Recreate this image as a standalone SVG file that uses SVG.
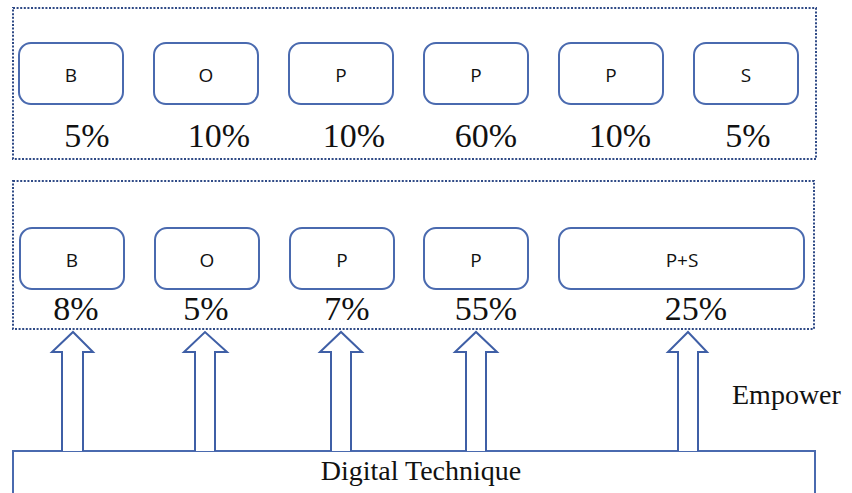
<svg xmlns="http://www.w3.org/2000/svg" width="852" height="493" viewBox="0 0 852 493">
<style>
.grp{fill:none;stroke:#2f4a86;stroke-width:2;stroke-dasharray:2 1.6}
.box{fill:#fff;stroke:#4a6aaf;stroke-width:2}
.lbl{font-family:"Open Sans","Liberation Sans",sans-serif;font-size:19px;fill:#111;text-anchor:middle}
.pct{font-family:"Liberation Serif","Times New Roman",serif;font-size:34px;fill:#111;text-anchor:middle}
.arr{fill:#fff;stroke:#3f5fa6;stroke-width:2;stroke-linejoin:miter}
.big{font-family:"Liberation Serif","Times New Roman",serif;font-size:28px;fill:#111}
</style>
<rect width="852" height="493" fill="#fff"/>
<g id="group-top">
<rect class="grp" x="13" y="8" width="803" height="151"/>
</g>
<g id="top-B"><rect class="box" x="19" y="43" width="104" height="61" rx="12"/><text class="lbl" x="71" y="82">B</text><text class="pct" x="87" y="147">5%</text></g>
<g id="top-O"><rect class="box" x="154" y="43" width="104" height="61" rx="12"/><text class="lbl" x="206" y="82">O</text><text class="pct" x="219" y="147">10%</text></g>
<g id="top-P1"><rect class="box" x="289" y="43" width="104" height="61" rx="12"/><text class="lbl" x="341" y="82">P</text><text class="pct" x="354" y="147">10%</text></g>
<g id="top-P2"><rect class="box" x="424" y="43" width="104" height="61" rx="12"/><text class="lbl" x="476" y="82">P</text><text class="pct" x="486" y="147">60%</text></g>
<g id="top-P3"><rect class="box" x="559" y="43" width="104" height="61" rx="12"/><text class="lbl" x="611" y="82">P</text><text class="pct" x="620" y="147">10%</text></g>
<g id="top-S"><rect class="box" x="694" y="43" width="104" height="61" rx="12"/><text class="lbl" x="746" y="82">S</text><text class="pct" x="748" y="147">5%</text></g>
<g id="group-mid">
<rect class="grp" x="13" y="181" width="801" height="148"/>
</g>
<g id="mid-B"><rect class="box" x="20" y="228" width="104" height="61" rx="12"/><text class="lbl" x="72" y="267">B</text><text class="pct" x="76" y="320">8%</text></g>
<g id="mid-O"><rect class="box" x="155" y="228" width="104" height="61" rx="12"/><text class="lbl" x="207" y="267">O</text><text class="pct" x="206" y="320">5%</text></g>
<g id="mid-P1"><rect class="box" x="290" y="228" width="104" height="61" rx="12"/><text class="lbl" x="342" y="267">P</text><text class="pct" x="347" y="320">7%</text></g>
<g id="mid-P2"><rect class="box" x="424" y="228" width="104" height="61" rx="12"/><text class="lbl" x="476" y="267">P</text><text class="pct" x="486" y="320">55%</text></g>
<g id="mid-PS"><rect class="box" x="559" y="228" width="245" height="61" rx="12"/><text class="lbl" x="682" y="267">P+S</text><text class="pct" x="696" y="320">25%</text></g>
<g id="digital"><rect class="box" x="13" y="451" width="802" height="60"/><text class="big" x="421" y="480" text-anchor="middle">Digital Technique</text></g>
<g id="connectors">
<path class="arr" d="M62,451 V352 H52 L73,332 L93,352 H83 V451"/>
<path class="arr" d="M195,451 V352 H184 L205,332 L227,352 H215 V451"/>
<path class="arr" d="M331,451 V352 H320 L341,332 L362,352 H351 V451"/>
<path class="arr" d="M466,451 V352 H455 L476,332 L497,352 H486 V451"/>
<path class="arr" d="M678,451 V352 H668 L688,332 L707,352 H698 V451"/>
</g>
<text class="big" x="732" y="404" font-size="30">Empower</text>
</svg>
